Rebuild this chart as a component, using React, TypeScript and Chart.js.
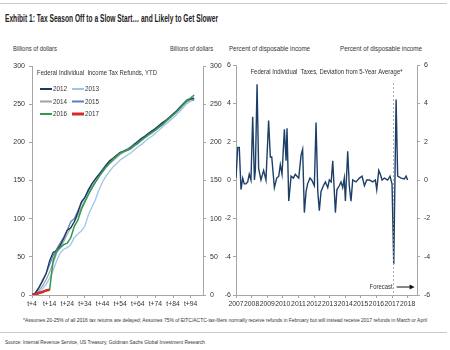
import React, { useEffect, useLayoutEffect, useRef } from "react";
import { Chart, registerables } from "chart.js";

Chart.register(...registerables);

const FONT = "'Liberation Sans', Arial, sans-serif";

// ---------- Left chart data: cumulative refunds (billions $) by week ----------
const weeks = [4, 6, 8, 10, 12, 14, 16, 18, 20, 22, 24, 26, 28, 30, 32, 34, 36, 38, 40, 42, 44, 46, 48, 50, 52, 54, 56, 58, 60, 62, 64, 66, 68, 70, 72, 74, 76, 78, 80, 82, 84, 86, 88, 90, 92, 94, 96];
const weekTicks = [4, 14, 24, 34, 44, 54, 64, 74, 84, 94];
const refunds2012 = [0, 3, 10, 18, 28, 45, 56, 58, 65, 74, 85, 88, 96, 108, 122, 128, 138, 146, 152, 158, 164, 170, 176, 179, 183, 187, 188, 190, 193, 197, 201, 205, 208, 212, 215, 218, 222, 226, 229, 233, 237, 241, 246, 251, 255, 257, 258];
const refunds2013 = [0, 1, 3, 8, 14, 22, 32, 45, 55, 60, 62, 66, 75, 80, 84, 90, 105, 115, 125, 138, 148, 156, 162, 168, 172, 177, 180, 183, 186, 190, 194, 197, 201, 205, 208, 212, 216, 220, 224, 228, 232, 236, 241, 246, 251, 254, 256];
const refunds2014 = [0, 2, 6, 12, 20, 30, 42, 55, 62, 70, 80, 88, 96, 104, 115, 123, 131, 141, 148, 155, 161, 167, 172, 176, 180, 184, 187, 189, 191, 195, 198, 202, 206, 209, 212, 216, 219, 223, 227, 231, 235, 239, 244, 249, 253, 256, 258];
const refunds2015 = [0, 3, 10, 20, 28, 40, 52, 60, 68, 76, 85, 96, 100, 110, 120, 128, 136, 145, 152, 158, 164, 170, 175, 179, 183, 186, 189, 191, 194, 198, 201, 205, 208, 211, 214, 218, 221, 225, 229, 233, 237, 241, 246, 251, 256, 257, 255];
const refunds2016 = [0, 1, 2, 4, 6, 7, 45, 58, 62, 66, 68, 75, 90, 98, 112, 122, 132, 140, 148, 155, 162, 168, 173, 178, 182, 186, 188, 190, 192, 196, 199, 203, 206, 210, 213, 216, 220, 223, 228, 232, 236, 240, 245, 250, 255, 258, 262];
const refunds2017 = [0, 1, 3, 4, 6, 7];
const refundYears = ["2012", "2013", "2014", "2015", "2016", "2017"];

// ---------- Right chart data: deviation from 5-yr average (% of disposable income) ----------
const taxDates = [2007.00, 2007.11, 2007.21, 2007.32, 2007.43, 2007.53, 2007.64, 2007.75, 2007.85, 2007.96,
  2008.07, 2008.18, 2008.24, 2008.35, 2008.45, 2008.60, 2008.77, 2008.92,
  2009.09, 2009.20, 2009.29, 2009.46, 2009.61, 2009.74, 2009.84, 2009.95,
  2010.10, 2010.21, 2010.27, 2010.38, 2010.53, 2010.68, 2010.80, 2010.91,
  2011.02, 2011.17, 2011.27, 2011.38, 2011.49, 2011.59, 2011.74, 2011.85,
  2012.02, 2012.13, 2012.24, 2012.34, 2012.45, 2012.60, 2012.73, 2012.88, 2012.98,
  2013.10, 2013.20, 2013.37, 2013.47, 2013.62, 2013.73, 2013.84, 2013.94,
  2014.01, 2014.16, 2014.26, 2014.37, 2014.48, 2014.69, 2014.91,
  2015.08, 2015.23, 2015.38, 2015.55, 2015.76, 2015.93,
  2016.02, 2016.15, 2016.25, 2016.36, 2016.51, 2016.72, 2016.87,
  2017.00, 2017.11, 2017.26, 2017.36, 2017.58, 2017.79, 2017.90,
  2018.00];
const taxDeviation = [0.1, 1.7, 1.7, -0.5, 0.1, -0.2, -0.2, -0.1, 0.3, 0.0,
  3.3, 0.0, 0.5, 5.0, 0.6, 0.0, 0.5, 0.0,
  3.1, 1.2, 1.2, -0.4, 0.1, 0.2, 0.8, 0.3,
  2.65, 1.0, 2.7, -1.1, 0.2, 0.1, 0.3, 0.2,
  0.1, 1.3, 1.6, -1.7, -0.6, -0.2, 0.1, 0.0,
  -0.3, 3.0, -0.6, -1.6, -0.6, -0.3, -0.1, -0.4, 0.0,
  -0.1, 1.0, -1.7, -0.5, -0.3, -0.1, -0.4, 0.1,
  -1.1, 1.5, -0.3, -1.1, 0.0, -0.1, 0.1,
  0.2, -0.3, 0.0, 0.0, -0.1, 0.0,
  -0.5, 0.5, 0.3, 0.0, 0.1, 0.0, 0.2,
  -0.2, -4.4, 4.2, 0.2, 0.1, 0.05, 0.2,
  0.0];
const yearTicks = [2007, 2008, 2009, 2010, 2011, 2012, 2013, 2014, 2015, 2016, 2017, 2018];
const forecastStart = 2017.1;

const AXIS = "#a6a6a6";
const TEXT = "#333333";

const tickFont = { family: FONT, size: 7 };

function axisCommon(extra: any) {
  return {
    grid: { drawOnChartArea: false, drawTicks: true, tickLength: 3, color: AXIS },
    border: { color: AXIS, width: 1 },
    ticks: { font: tickFont, color: TEXT, padding: 2, maxRotation: 0, autoSkip: false },
    ...extra,
  };
}

function fitText(ctx: CanvasRenderingContext2D, text: string, x: number, y: number, targetW: number, align: CanvasTextAlign) {
  const w = ctx.measureText(text).width;
  ctx.save();
  ctx.translate(x, y);
  ctx.scale(targetW / w, 1);
  ctx.textAlign = align;
  ctx.textBaseline = "middle";
  ctx.fillText(text, 0, 0);
  ctx.restore();
}

const FitText: React.FC<{ left: number; top: number; width: number; size: number; bold?: boolean; color?: string; children: React.ReactNode }> = ({ left, top, width, size, bold, color, children }) => {
  const ref = useRef<HTMLDivElement>(null);
  useLayoutEffect(() => {
    const el = ref.current;
    if (!el) return;
    el.style.transform = "none";
    const w = el.getBoundingClientRect().width;
    if (w > 0) el.style.transform = `scaleX(${width / w})`;
  }, [width]);
  return (
    <div
      ref={ref}
      style={{ position: "absolute", left, top, fontSize: size, lineHeight: 1, fontWeight: bold ? "bold" : "normal", whiteSpace: "nowrap", transformOrigin: "0 0", color: color || TEXT, display: "inline-block" }}
    >
      {children}
    </div>
  );
};

const App: React.FC = () => {
  const leftRef = useRef<HTMLCanvasElement>(null);
  const rightRef = useRef<HTMLCanvasElement>(null);

  useEffect(() => {
    const colors = ["#1c3a63", "#9ec5e8", "#a3a3a3", "#5d7fb8", "#2f9a4c", "#d62b2b"];
    const widths = [1.3, 1.3, 1.3, 1.3, 1.5, 2.6];
    const orders = [2, 5, 4, 3, 1, 0];
    const seriesVals = [refunds2012, refunds2013, refunds2014, refunds2015, refunds2016, refunds2017];

    const leftLegend = {
      id: "leftLegend",
      afterDatasetsDraw(chart: any) {
        const { ctx, chartArea } = chart;
        ctx.save();
        ctx.font = `7.5px ${FONT}`;
        ctx.fillStyle = TEXT;
        fitText(ctx, "Federal Individual  Income Tax Refunds, YTD", chartArea.left + 5, chartArea.top + 7, 120, "left");
        refundYears.forEach((yr, i) => {
          const col = i % 2;
          const row = Math.floor(i / 2);
          const x0 = chartArea.left + 8 + col * 32;
          const y0 = chartArea.top + 23 + row * 12.5;
          ctx.strokeStyle = colors[i];
          ctx.lineWidth = i === 5 ? 3 : 2;
          ctx.beginPath();
          ctx.moveTo(x0, y0);
          ctx.lineTo(x0 + 12, y0);
          ctx.stroke();
          ctx.fillStyle = TEXT;
          fitText(ctx, yr, x0 + 13, y0, 14, "left");
        });
        ctx.restore();
      },
    };

    const left = new Chart(leftRef.current as HTMLCanvasElement, {
      type: "line",
      data: {
        datasets: seriesVals.map((vals, i) => ({
          label: refundYears[i],
          data: vals.map((v, j) => ({ x: weeks[j], y: v })),
          borderColor: colors[i],
          borderWidth: widths[i],
          pointRadius: 0,
          fill: false,
          tension: 0,
          order: orders[i],
          yAxisID: "y",
        })),
      },
      options: {
        animation: false,
        responsive: false,
        maintainAspectRatio: false,
        layout: { padding: { top: 10, left: 0, right: 0, bottom: 0 } },
        plugins: { legend: { display: false }, tooltip: { enabled: false } },
        scales: {
          x: axisCommon({
            type: "linear",
            min: 4,
            max: 101,
            afterBuildTicks: (s: any) => { s.ticks = weekTicks.map((v) => ({ value: v })); },
            afterFit: (s: any) => { s.height = 21; },
            ticks: { font: { family: FONT, size: 6.8 }, color: TEXT, padding: 2, maxRotation: 0, autoSkip: false, callback: (v: any) => "t+" + v },
          }),
          y: axisCommon({
            min: 0, max: 300,
            afterFit: (s: any) => { s.width = 32; },
            ticks: { font: tickFont, color: TEXT, padding: 4, stepSize: 50 },
          }),
          y2: axisCommon({
            position: "right",
            min: 0, max: 300,
            afterFit: (s: any) => { s.width = 22; },
            ticks: { font: tickFont, color: TEXT, padding: 4, stepSize: 50 },
          }),
        },
      },
      plugins: [leftLegend],
    } as any);

    const rightDecor = {
      id: "rightDecor",
      afterDatasetsDraw(chart: any) {
        const { ctx, chartArea, scales } = chart;
        ctx.save();
        ctx.font = `7.5px ${FONT}`;
        ctx.fillStyle = TEXT;
        fitText(ctx, "Federal Individual  Taxes, Deviation from 5-Year Average*", (chartArea.left + chartArea.right) / 2, chartArea.top + 7, 152, "center");
        const fx = scales.x.getPixelForValue(forecastStart);
        ctx.strokeStyle = "#9a9a9a";
        ctx.lineWidth = 0.8;
        ctx.setLineDash([2, 2]);
        ctx.beginPath();
        ctx.moveTo(fx, chartArea.top + 18);
        ctx.lineTo(fx, chartArea.bottom);
        ctx.stroke();
        ctx.setLineDash([]);
        const ay = chartArea.bottom - 8;
        ctx.fillStyle = TEXT;
        fitText(ctx, "Forecast", fx - 1, ay, 23, "right");
        ctx.strokeStyle = "#111";
        ctx.lineWidth = 1;
        ctx.beginPath();
        ctx.moveTo(fx + 3, ay);
        ctx.lineTo(fx + 18, ay);
        ctx.stroke();
        ctx.fillStyle = "#111";
        ctx.beginPath();
        ctx.moveTo(fx + 21, ay);
        ctx.lineTo(fx + 16, ay - 2.5);
        ctx.lineTo(fx + 16, ay + 2.5);
        ctx.closePath();
        ctx.fill();
        ctx.restore();
      },
    };

    const right = new Chart(rightRef.current as HTMLCanvasElement, {
      type: "line",
      data: {
        datasets: [{
          label: "Deviation",
          data: taxDates.map((d, i) => ({ x: d, y: taxDeviation[i] })),
          borderColor: "#1d3e66",
          borderWidth: 1.4,
          pointRadius: 0,
          fill: false,
          tension: 0,
          yAxisID: "y",
        }],
      },
      options: {
        animation: false,
        responsive: false,
        maintainAspectRatio: false,
        layout: { padding: { top: 9, left: 0, right: 0, bottom: 0 } },
        plugins: { legend: { display: false }, tooltip: { enabled: false } },
        scales: {
          x: axisCommon({
            type: "linear",
            min: 2007,
            max: 2018.6,
            afterBuildTicks: (s: any) => { s.ticks = yearTicks.map((v) => ({ value: v })); },
            afterFit: (s: any) => { s.height = 21; },
            ticks: { font: { family: FONT, size: 6.8 }, color: TEXT, padding: 2, maxRotation: 0, autoSkip: false, callback: (v: any) => String(v) },
          }),
          y: axisCommon({
            min: -6, max: 6,
            afterFit: (s: any) => { s.width = 11; },
            ticks: { font: tickFont, color: TEXT, padding: 2, stepSize: 2 },
          }),
          y2: axisCommon({
            position: "right",
            min: -6, max: 6,
            afterFit: (s: any) => { s.width = 33; },
            ticks: { font: tickFont, color: TEXT, padding: 4, stepSize: 2 },
          }),
        },
      },
      plugins: [rightDecor],
    } as any);

    return () => {
      left.destroy();
      right.destroy();
    };
  }, []);

  return (
    <div style={{ position: "absolute", left: 0, top: 0, width: 450, height: 350, background: "#fff", overflow: "hidden", fontFamily: FONT, color: TEXT }}>
      <div style={{ position: "absolute", left: 0, top: 3, width: 447, height: 1, background: "#c9c9c9" }} />
      <FitText left={5} top={14} width={213} size={10} bold color="#222">
        Exhibit 1: Tax Season Off to a Slow Start… and Likely to Get Slower
      </FitText>
      <FitText left={13} top={44.5} width={44} size={7}>Billions of dollars</FitText>
      <FitText left={170} top={44.5} width={43} size={7}>Billions of dollars</FitText>
      <FitText left={229} top={44.5} width={81} size={7}>Percent of disposable income</FitText>
      <FitText left={340} top={44.5} width={82} size={7}>Percent of disposable income</FitText>
      <canvas ref={leftRef} width={225} height={260} style={{ position: "absolute", left: 0, top: 56, width: 225, height: 260 }} />
      <canvas ref={rightRef} width={225} height={260} style={{ position: "absolute", left: 225, top: 56, width: 225, height: 260 }} />
      <FitText left={23} top={317} width={404} size={6}>
        *Assumes 20-25% of all 2016 tax returns are delayed; Assumes 75% of EITC/ACTC-tax-filers normally receive refunds in February but will instead receive 2017 refunds in March or April
      </FitText>
      <div style={{ position: "absolute", left: 0, top: 332, width: 447, height: 1, background: "#c9c9c9" }} />
      <FitText left={5} top={339} width={200} size={6}>
        Source: Internal Revenue Service, US Treasury, Goldman Sachs Global Investment Research
      </FitText>
    </div>
  );
};

export default App;
